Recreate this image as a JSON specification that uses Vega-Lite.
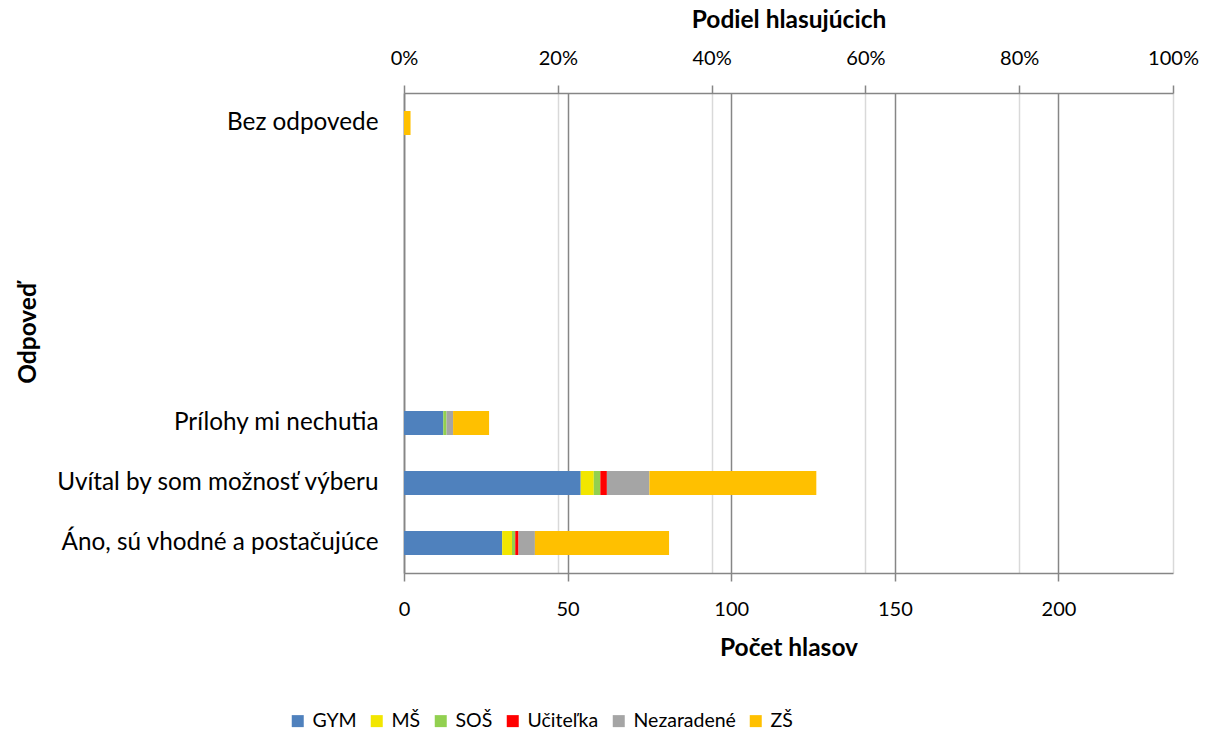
{
  "$schema": "https://vega.github.io/schema/vega-lite/v6.json",
  "autosize": {"type": "none"},
  "width": 769,
  "height": 480,
  "padding": {"left": 404, "top": 93, "right": 37, "bottom": 160},
  "background": "white",
  "config": {
    "view": {"stroke": null},
    "font": "Lato",
    "axis": {"labelFont": "Lato", "titleFont": "Lato", "labelColor": "#000000", "titleColor": "#000000", "labelFontSize": 20, "titleFontSize": 24.5, "titleFontWeight": "bold"},
    "legend": {"labelFont": "Lato", "labelFontSize": 19.5, "labelColor": "#000000"}
  },
  "datasets": {
    "votes": [
      {"odpoved": "Bez odpovede", "skupina": "ZŠ", "k": 6, "pocet": 2},
      {"odpoved": "Prílohy mi nechutia", "skupina": "GYM", "k": 1, "pocet": 12},
      {"odpoved": "Prílohy mi nechutia", "skupina": "SOŠ", "k": 3, "pocet": 1},
      {"odpoved": "Prílohy mi nechutia", "skupina": "Nezaradené", "k": 5, "pocet": 2},
      {"odpoved": "Prílohy mi nechutia", "skupina": "ZŠ", "k": 6, "pocet": 11},
      {"odpoved": "Uvítal by som možnosť výberu", "skupina": "GYM", "k": 1, "pocet": 54},
      {"odpoved": "Uvítal by som možnosť výberu", "skupina": "MŠ", "k": 2, "pocet": 4},
      {"odpoved": "Uvítal by som možnosť výberu", "skupina": "SOŠ", "k": 3, "pocet": 2},
      {"odpoved": "Uvítal by som možnosť výberu", "skupina": "Učiteľka", "k": 4, "pocet": 2},
      {"odpoved": "Uvítal by som možnosť výberu", "skupina": "Nezaradené", "k": 5, "pocet": 13},
      {"odpoved": "Uvítal by som možnosť výberu", "skupina": "ZŠ", "k": 6, "pocet": 51},
      {"odpoved": "Áno, sú vhodné a postačujúce", "skupina": "GYM", "k": 1, "pocet": 30},
      {"odpoved": "Áno, sú vhodné a postačujúce", "skupina": "MŠ", "k": 2, "pocet": 3},
      {"odpoved": "Áno, sú vhodné a postačujúce", "skupina": "SOŠ", "k": 3, "pocet": 1},
      {"odpoved": "Áno, sú vhodné a postačujúce", "skupina": "Učiteľka", "k": 4, "pocet": 1},
      {"odpoved": "Áno, sú vhodné a postačujúce", "skupina": "Nezaradené", "k": 5, "pocet": 5},
      {"odpoved": "Áno, sú vhodné a postačujúce", "skupina": "ZŠ", "k": 6, "pocet": 41}
    ],
    "share": [{"podiel": 0}, {"podiel": 1}]
  },
  "layer": [
    {
      "data": {"name": "share"},
      "mark": {"type": "point", "opacity": 0},
      "encoding": {
        "x": {
          "field": "podiel", "type": "quantitative",
          "scale": {"domain": [0, 1], "nice": false, "zero": true},
          "axis": {
            "orient": "top", "title": "Podiel hlasujúcich", "format": ".0%",
            "values": [0, 0.2, 0.4, 0.6, 0.8, 1],
            "grid": true, "gridColor": "#d9d9d9", "gridWidth": 1.5,
            "domainColor": "#868686", "domainWidth": 1.5,
            "tickColor": "#868686", "tickWidth": 1.5, "tickSize": 8,
            "labelPadding": 17, "labelFlush": false,
            "titleY": -66, "titleBaseline": "alphabetic"
          }
        }
      }
    },
    {
      "data": {"name": "votes"},
      "mark": {"type": "bar"},
      "encoding": {
        "y": {
          "field": "odpoved", "type": "nominal",
          "scale": {
            "domain": ["Bez odpovede", " ", "  ", "   ", "    ", "Prílohy mi nechutia", "Uvítal by som možnosť výberu", "Áno, sú vhodné a postačujúce"],
            "paddingInner": 0.6, "paddingOuter": 0.3
          },
          "axis": {
            "title": "Odpoveď", "ticks": false, "labelPadding": 26, "labelFontSize": 24.3,
            "titleX": -376, "titleY": 240, "titleBaseline": "middle", "titleAlign": "center", "titleAngle": 270,
            "domainColor": "#868686", "domainWidth": 1.5, "labelLimit": 400
          }
        },
        "x": {
          "field": "pocet", "type": "quantitative", "stack": "zero",
          "scale": {"domain": [0, 235], "nice": false},
          "axis": {
            "orient": "bottom", "title": "Počet hlasov",
            "values": [0, 50, 100, 150, 200],
            "grid": true, "gridColor": "#868686", "gridWidth": 1.5,
            "domainColor": "#868686", "domainWidth": 1.5,
            "tickColor": "#868686", "tickWidth": 1.5, "tickSize": 8,
            "labelPadding": 18, "labelFlush": false,
            "titleY": 82, "titleBaseline": "alphabetic"
          }
        },
        "order": {"field": "k", "type": "quantitative", "sort": "ascending"},
        "color": {
          "field": "skupina", "type": "nominal",
          "scale": {
            "domain": ["GYM", "MŠ", "SOŠ", "Učiteľka", "Nezaradené", "ZŠ"],
            "range": ["#4f81bd", "#f2e600", "#92d050", "#ff0000", "#a5a5a5", "#ffc000"]
          },
          "legend": {
            "title": null, "orient": "none", "direction": "horizontal",
            "legendX": -116, "legendY": 618, "padding": 0,
            "symbolType": "square", "symbolSize": 144, "symbolStrokeWidth": 0,
            "labelOffset": 5, "columnPadding": 10
          }
        }
      }
    }
  ],
  "resolve": {"scale": {"x": "independent"}}
}
